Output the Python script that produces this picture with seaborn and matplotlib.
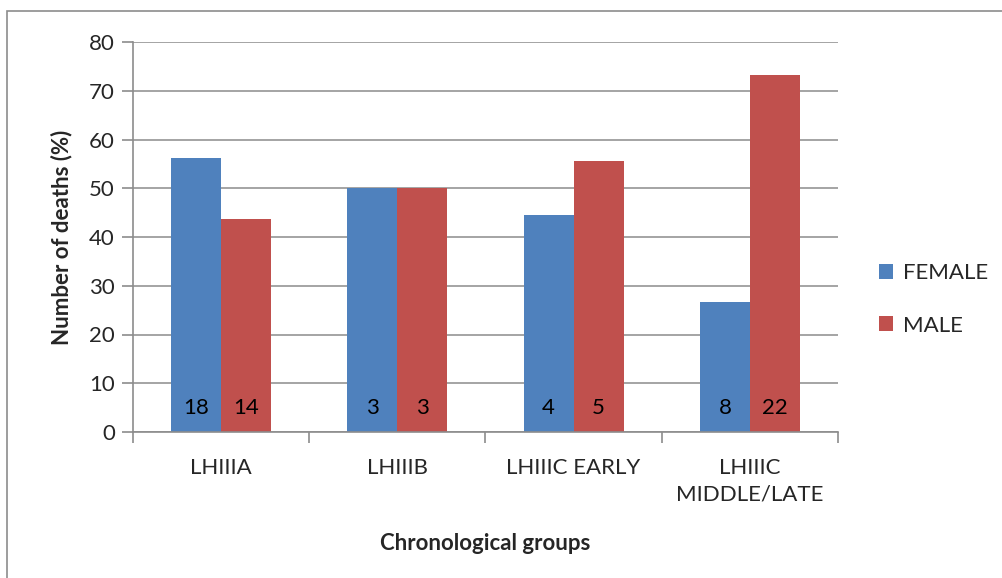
import numpy as np
import pandas as pd
import matplotlib
matplotlib.use('Agg')
import matplotlib.pyplot as plt
import seaborn as sns
from matplotlib.patches import Rectangle

GROUPS = ["LHIIIA", "LHIIIB", "LHIIIC EARLY", "LHIIIC\nMIDDLE/LATE"]
FEMALE_PCT = [56.25, 50.0, 44.44, 26.67]
MALE_PCT = [43.75, 50.0, 55.56, 73.33]
FEMALE_N = [18, 3, 4, 8]
MALE_N = [14, 3, 5, 22]

df = pd.DataFrame({
    "group": GROUPS * 2,
    "sex": ["FEMALE"] * 4 + ["MALE"] * 4,
    "pct": FEMALE_PCT + MALE_PCT,
    "n": FEMALE_N + MALE_N,
})

sns.set_style("white")
plt.rcParams['font.family'] = ['Lato', 'DejaVu Sans']
FS = 16

fig = plt.figure(figsize=(10.03, 5.78), dpi=100)
ax = fig.add_axes([133 / 1003, 1 - 432 / 578, (838 - 133) / 1003, (432 - 42) / 578])

# outer chart border (right and bottom run off the image)
fig.patches.append(Rectangle((7 / 1003, -0.1), 1.1, 1.1 - 11 / 578, transform=fig.transFigure,
                             fill=False, edgecolor='#8c8c8c', linewidth=1.2))

sns.barplot(data=df, x="group", y="pct", hue="sex",
            palette={"FEMALE": "#4F81BD", "MALE": "#C0504D"},
            width=0.567, ax=ax, saturation=1, linewidth=0, legend=True)

# counts inside the bars, near the base
for cont, counts in zip(ax.containers, [FEMALE_N, MALE_N]):
    for bar, n in zip(cont, counts):
        ax.text(bar.get_x() + bar.get_width() / 2, 5, str(n),
                ha='center', va='center', fontsize=FS, color='black')

ax.set_ylim(0, 80)
ax.set_xlim(-0.5, 3.5)
ax.set_yticks(range(0, 81, 10))
ax.yaxis.grid(True, color='#8c8c8c', linewidth=1.1)
ax.set_axisbelow(True)
for side in ['top', 'right']:
    ax.spines[side].set_visible(False)
for side in ['left', 'bottom']:
    ax.spines[side].set_color('#8c8c8c')
    ax.spines[side].set_linewidth(1.2)

ax.tick_params(axis='y', which='major', length=8, color='#8c8c8c', width=1.2,
               labelsize=FS, pad=5, left=True)
ax.set_xticks(np.arange(-0.5, 4, 1), minor=True)
ax.tick_params(axis='x', which='major', length=0, labelsize=FS, pad=19)
ax.tick_params(axis='x', which='minor', length=8, color='#8c8c8c', width=1.2, bottom=True)
for lbl in ax.get_xticklabels():
    lbl.set_linespacing(1.4)

ax.set_xlabel("Chronological groups", fontsize=FS, fontweight='bold', labelpad=20)
ax.set_ylabel("Number of deaths (%)", fontsize=FS, fontweight='bold', labelpad=12)

ax.legend(loc='center left', bbox_to_anchor=(1.045, 0.34), frameon=False, fontsize=FS,
          handlelength=0.65, handleheight=0.65, handletextpad=0.45, labelspacing=1.45,
          borderaxespad=0, title=None)

plt.savefig("out.png", dpi=100)
plt.close()
